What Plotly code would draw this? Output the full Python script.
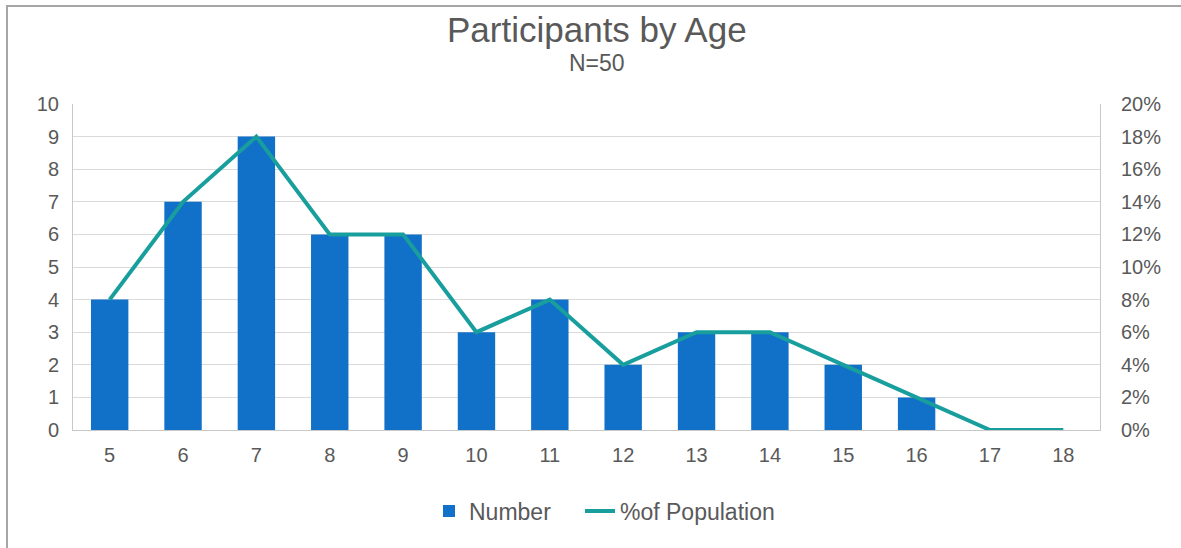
import plotly.graph_objects as go

ages = ["5", "6", "7", "8", "9", "10", "11", "12", "13", "14", "15", "16", "17", "18"]
number = [4, 7, 9, 6, 6, 3, 4, 2, 3, 3, 2, 1, 0, 0]
pct_population = [0.08, 0.14, 0.18, 0.12, 0.12, 0.06, 0.08, 0.04, 0.06, 0.06, 0.04, 0.02, 0.0, 0.0]

W, H = 1181, 548
L, R, T, B = 73, 81, 104, 118
PW, PH = W - L - R, H - T - B

def px(x):
    return (x - L) / PW

def py(y):
    return 1 - (y - T) / PH

FONT = "Liberation Sans, Arial, sans-serif"
TXT = "#595959"
BAR = "#1170C8"
LINE = "#199E9E"

fig = go.Figure()
fig.add_trace(go.Bar(x=ages, y=number, name="Number", marker_color=BAR,
                     marker_line_width=0, yaxis="y", legend="legend"))
fig.add_trace(go.Scatter(x=ages, y=pct_population, name="%of Population", mode="lines",
                         line=dict(color=LINE, width=4), yaxis="y2", legend="legend2"))

leg_common = dict(orientation="h", xanchor="left", y=py(511), yanchor="middle",
                  font=dict(size=23, color=TXT), itemwidth=30, bgcolor="rgba(0,0,0,0)")

fig.update_layout(
    width=W, height=H,
    margin=dict(l=L, r=R, t=T, b=B, pad=0),
    paper_bgcolor="white", plot_bgcolor="white",
    font=dict(family=FONT, size=20, color=TXT),
    bargap=0.49,
    showlegend=True,
    legend=dict(x=px(429), **leg_common),
    legend2=dict(x=px(580), **leg_common),
    xaxis=dict(type="category", showgrid=False, showline=True, linecolor="#c8c8c8", linewidth=1,
               ticks="", ticklabelstandoff=7, tickfont=dict(size=20, color=TXT)),
    yaxis=dict(range=[0, 10], dtick=1, showgrid=True, gridcolor="#dadada", gridwidth=1,
               showline=True, linecolor="#c8c8c8", linewidth=1, zeroline=False,
               ticks="", ticklabelstandoff=9, tickfont=dict(size=20, color=TXT)),
    yaxis2=dict(range=[0, 0.2], dtick=0.02, tickformat=".0%", overlaying="y", side="right",
                showgrid=False, showline=True, linecolor="#c8c8c8", linewidth=1, zeroline=False,
                ticks="", ticklabelstandoff=16, tickfont=dict(size=20, color=TXT)),
    annotations=[
        dict(text="Participants by Age", x=px(597), y=py(29), xref="paper", yref="paper",
             xanchor="center", yanchor="middle", showarrow=False,
             font=dict(family=FONT, size=35, color=TXT)),
        dict(text="N=50", x=px(597), y=py(63), xref="paper", yref="paper",
             xanchor="center", yanchor="middle", showarrow=False,
             font=dict(family=FONT, size=23, color=TXT)),
    ],
    shapes=[
        dict(type="line", xref="paper", yref="paper", x0=px(7), x1=px(7), y0=py(6), y1=py(H + 2),
             line=dict(color="#a6a6a6", width=2)),
        dict(type="line", xref="paper", yref="paper", x0=px(6), x1=px(W + 2), y0=py(6), y1=py(6),
             line=dict(color="#a6a6a6", width=2)),
    ],
)

fig.write_html("out.html", config={"displayModeBar": False},
               post_script="document.body.style.margin='0';document.body.style.overflow='hidden';")
